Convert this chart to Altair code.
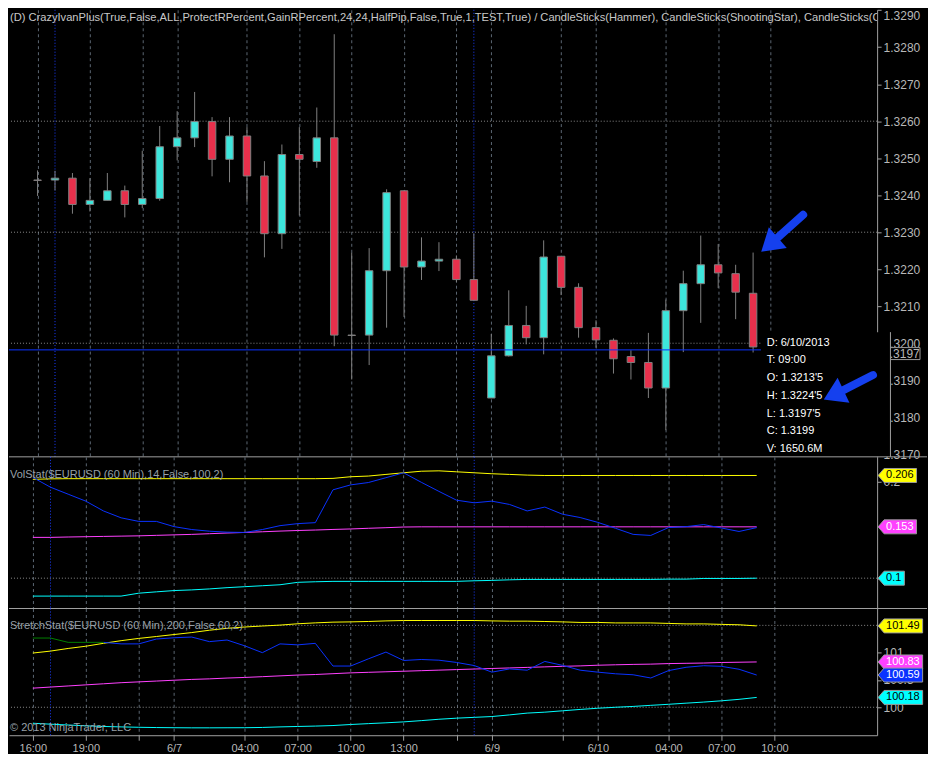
import math
import altair as alt
import pandas as pd

# ---------------- data ----------------
bar_index = list(range(42))
opens = [1.32441, 1.32441, 1.32446, 1.32375, 1.32386, 1.32412, 1.32375, 1.32391, 1.32531, 1.32555,
         1.32599, 1.32497, 1.32560, 1.32452, 1.32296, 1.32510, 1.32491, 1.32555, 1.32022, 1.32022,
         1.32196, 1.32412, 1.32206, 1.32222, 1.32227, 1.32172, 1.31852, 1.31966, 1.32048, 1.32015,
         1.32235, 1.32151, 1.32042, 1.32008, 1.31964, 1.31948, 1.31879, 1.32088, 1.32161, 1.32212,
         1.32188, 1.32135]
highs = [1.32467, 1.32466, 1.32460, 1.32446, 1.32460, 1.32426, 1.32520, 1.32587, 1.32627, 1.32679,
         1.32611, 1.32611, 1.32584, 1.32492, 1.32537, 1.32584, 1.32637, 1.32835, 1.32245, 1.32257,
         1.32416, 1.32413, 1.32286, 1.32273, 1.32237, 1.32297, 1.32025, 1.32143, 1.32101, 1.32278,
         1.32235, 1.32162, 1.32062, 1.32013, 1.31981, 1.32028, 1.32118, 1.32196, 1.32291, 1.32268,
         1.32212, 1.32245]
lows = [1.32398, 1.32413, 1.32350, 1.32356, 1.32386, 1.32340, 1.32365, 1.32385, 1.32494, 1.32530,
        1.32451, 1.32435, 1.32382, 1.32232, 1.32255, 1.32345, 1.32474, 1.31992, 1.31902, 1.31941,
        1.32042, 1.32071, 1.32171, 1.32195, 1.32165, 1.32116, 1.31852, 1.31964, 1.31997, 1.31970,
        1.32130, 1.32015, 1.31988, 1.31918, 1.31902, 1.31852, 1.31765, 1.31976, 1.32055, 1.32149,
        1.32065, 1.31975]
closes = [1.32440, 1.32446, 1.32375, 1.32386, 1.32412, 1.32375, 1.32391, 1.32531, 1.32555, 1.32599,
          1.32497, 1.32560, 1.32452, 1.32296, 1.32510, 1.32497, 1.32555, 1.32022, 1.32021, 1.32196,
          1.32407, 1.32206, 1.32222, 1.32227, 1.32172, 1.32116, 1.31966, 1.32048, 1.32015, 1.32233,
          1.32151, 1.32042, 1.32009, 1.31958, 1.31948, 1.31879, 1.32088, 1.32161, 1.32212, 1.32190,
          1.32138, 1.31990]

vol_yellow = [0.2020, 0.2025, 0.2027, 0.2027, 0.2027, 0.2027, 0.2027, 0.2027, 0.2027, 0.2027,
              0.2027, 0.2027, 0.2027, 0.2027, 0.2027, 0.2027, 0.2027, 0.2030, 0.2047, 0.2054,
              0.2071, 0.2088, 0.2104, 0.2108, 0.2098, 0.2088, 0.2078, 0.2071, 0.2064, 0.2060,
              0.2060, 0.2060, 0.2060, 0.2060, 0.2060, 0.2060, 0.2060, 0.2060, 0.2060, 0.2060,
              0.2060, 0.2060]
vol_magenta = [0.1421, 0.1421, 0.1425, 0.1428, 0.1431, 0.1434, 0.1437, 0.1442, 0.1447, 0.1452,
               0.1459, 0.1466, 0.1472, 0.1479, 0.1486, 0.1492, 0.1497, 0.1503, 0.1508, 0.1515,
               0.1521, 0.1528, 0.1530, 0.1530, 0.1530, 0.1530, 0.1530, 0.1530, 0.1530, 0.1530,
               0.1530, 0.1530, 0.1530, 0.1530, 0.1530, 0.1530, 0.1530, 0.1530, 0.1530, 0.1530,
               0.1530, 0.1530]
vol_blue = [0.2040, 0.1939, 0.1867, 0.1795, 0.1694, 0.1623, 0.1586, 0.1586, 0.1532, 0.1502,
            0.1485, 0.1475, 0.1472, 0.1502, 0.1542, 0.1563, 0.1573, 0.1912, 0.1963, 0.1987,
            0.2037, 0.2088, 0.1990, 0.1896, 0.1805, 0.1778, 0.1795, 0.1761, 0.1694, 0.1734,
            0.1660, 0.1626, 0.1576, 0.1515, 0.1452, 0.1441, 0.1522, 0.1532, 0.1553, 0.1518,
            0.1482, 0.1522]
vol_cyan = [0.0815, 0.0815, 0.0815, 0.0815, 0.0815, 0.0815, 0.0845, 0.0859, 0.0872, 0.0879,
            0.0889, 0.0902, 0.0912, 0.0922, 0.0932, 0.0957, 0.0963, 0.0967, 0.0967, 0.0967,
            0.0967, 0.0967, 0.0967, 0.0967, 0.0967, 0.0973, 0.0977, 0.0983, 0.0987, 0.0987,
            0.0987, 0.0987, 0.0987, 0.0987, 0.0987, 0.0987, 0.0990, 0.0990, 0.0997, 0.0997,
            0.0997, 0.1000]

str_yellow = [100.993, 101.029, 101.077, 101.118, 101.171, 101.220, 101.261, 101.296, 101.332, 101.368,
              101.411, 101.446, 101.470, 101.488, 101.505, 101.529, 101.546, 101.559, 101.564, 101.571,
              101.582, 101.589, 101.589, 101.589, 101.589, 101.589, 101.582, 101.577, 101.577, 101.571,
              101.564, 101.554, 101.554, 101.545, 101.545, 101.545, 101.536, 101.527, 101.527, 101.518,
              101.511, 101.490]
str_magenta = [100.350, 100.370, 100.390, 100.410, 100.430, 100.450, 100.465, 100.480, 100.495, 100.510,
               100.520, 100.535, 100.546, 100.560, 100.575, 100.590, 100.600, 100.615, 100.630, 100.640,
               100.650, 100.660, 100.670, 100.680, 100.690, 100.700, 100.710, 100.720, 100.730, 100.740,
               100.750, 100.758, 100.770, 100.778, 100.785, 100.790, 100.800, 100.805, 100.810, 100.820,
               100.825, 100.830]
str_mid = [101.268, 101.268, 101.189, 101.189, 101.189, 101.161, 101.161, 101.250, 101.273, 101.286,
           101.202, 101.232, 101.125, 101.000, 101.161, 101.143, 101.171, 100.755, 100.755, 100.886,
           101.011, 100.857, 100.875, 100.862, 100.821, 100.764, 100.643, 100.702, 100.679, 100.839,
           100.768, 100.679, 100.643, 100.613, 100.595, 100.536, 100.671, 100.732, 100.761, 100.750,
           100.696, 100.590]
str_cyan = [99.707, 99.690, 99.675, 99.660, 99.648, 99.640, 99.633, 99.628, 99.625, 99.623,
            99.623, 99.624, 99.625, 99.630, 99.640, 99.648, 99.655, 99.665, 99.684, 99.700,
            99.715, 99.732, 99.755, 99.780, 99.800, 99.815, 99.830, 99.860, 99.893, 99.910,
            99.935, 99.960, 99.982, 100.000, 100.015, 100.035, 100.054, 100.075, 100.095, 100.118,
            100.145, 100.180]
green_until = 4  # mid line is drawn green while above the upper band

grid_idx = [0, 3, 6, 8, 12, 15, 18, 21, 24, 26, 30, 32, 36, 39, 42]
grid_lbl = ["16:00", "19:00", "", "6/7", "04:00", "07:00", "10:00", "13:00", "", "6/9", "",
            "6/10", "04:00", "07:00", "10:00"]
session_breaks = [1, 25]

price_ticks = [1.3170, 1.3180, 1.3190, 1.3200, 1.3210, 1.3220, 1.3230, 1.3240, 1.3250,
               1.3260, 1.3270, 1.3280, 1.3290]
price_grid = [1.3200, 1.3230, 1.3260]
vol_ticks = [0.1, 0.2]
vol_grid = [0.1]
str_ticks = [100.0, 100.5, 101.0]
str_grid = [100.0, 101.5]

last_line_price = 1.31982
marker_price = 1.31972
marker_text = "1.3197"

vol_tag_vals = [0.206, 0.153, 0.1]
vol_tag_text = ["0.206", "0.153", "0.1"]
str_tag_vals = [101.49, 100.83, 100.59, 100.18]
str_tag_text = ["101.49", "100.83", "100.59", "100.18"]

title_text = ("(D) CrazyIvanPlus(True,False,ALL,ProtectRPercent,GainRPercent,24,24,HalfPip,False,True,1,"
              "TEST,True) / CandleSticks(Hammer), CandleSticks(ShootingStar), CandleSticks(Cloud)")
vol_label = "VolStat($EURUSD (60 Min),14,False,100,2)"
str_label = "StretchStat($EURUSD (60 Min),200,False,60,2)"
copyright_text = "\u00a9 2013 NinjaTrader, LLC"
info_lines = ["D: 6/10/2013", "T: 09:00", "O: 1.3213'5", "H: 1.3224'5", "L: 1.3197'5",
              "C: 1.3199", "V: 1650.6M"]

# info box and arrows, in (bar index, price) coordinates
info_x0, info_x1, info_top = 41.45, 48.87, 1.32030
info_text_x, info_text_top = 41.78, 1.32018
arrow_id = ["a1", "a2"]
arrow_tail_i = [43.87, 47.87]
arrow_tail_p = [1.32347, 1.31914]
arrow_base_i = [42.30, 45.95]
arrow_base_p = [1.32281, 1.31868]
arrow_tip_i = [41.59, 45.20]
arrow_tip_p = [1.32252, 1.31851]

# ---------------- layout & style ----------------
W = 870
H_P, H_V, H_S = 448, 152, 127
X_DOMAIN = [-1.35, 47.82]
PRICE_DOMAIN = [1.31693, 1.32901]
VOL_DOMAIN = [0.06869, 0.22525]
STR_DOMAIN = [99.4875, 101.809]

FONT = "Liberation Sans"
AX = "#a0a0a0"
LAB = "#b8b8b8"
VGRID = "#5b6672"
HGRID = "#8a8a8a"
UP = "#3de6dc"
DOWN = "#e8304c"
OUT = "#808080"
YEL, MAG, BLU, CYA, GRN = "#ffff00", "#ff40ff", "#0a32ff", "#00ffff", "#008000"
ARROW = "#1540ee"

one = pd.DataFrame({"k": [0]})
xs = alt.Scale(domain=X_DOMAIN, nice=False, zero=False)
label_expr = "".join(f"datum.value == {i} ? '{t}' : " for i, t in zip(grid_idx, grid_lbl)) + "''"

xa_top = alt.Axis(values=grid_idx, grid=True, gridColor=VGRID, gridDash=[3, 3], gridWidth=1,
                  labels=False, ticks=False, domain=False, title=None)
xa_bot = alt.Axis(values=grid_idx, grid=True, gridColor=VGRID, gridDash=[3, 3], gridWidth=1,
                  labelExpr=label_expr, labelColor=LAB, labelFontSize=11, labelFont=FONT,
                  ticks=True, tickColor=AX, tickSize=5, domain=True, domainColor=AX,
                  labelPadding=2, title=None, labelOverlap=False, labelFlush=False)


def yaxis(vals, fmt, flush=False):
    return alt.Axis(orient="right", values=vals, format=fmt, grid=False, domain=True, domainColor=AX,
                    ticks=True, tickColor=AX, tickSize=4, labelColor=LAB, labelFontSize=12,
                    labelFont=FONT, labelPadding=2, title=None, labelFlush=flush, labelOverlap=False)


def text_w(s, fs):
    return sum(0.278 * fs if ch == "." else 0.556 * fs for ch in s)


def tag_path(s):
    w = 8 + text_w(s, 11) + 3
    return f"M0,0 L6,-7 L{w:.1f},-7 L{w:.1f},7 L6,7 Z"


def tags(vals, texts, fills, tcols, yscale, yax):
    df = pd.DataFrame({"v": vals, "t": texts, "fill": fills, "tc": tcols,
                       "path": [tag_path(t) for t in texts]})
    shape = alt.Chart(df).mark_point(filled=True, opacity=1, size=4, stroke="#9a9a9a",
                                     strokeWidth=1).encode(
        x=alt.value(W + 1), y=alt.Y("v:Q", scale=yscale, axis=yax),
        shape=alt.Shape("path:N", scale=None), fill=alt.Fill("fill:N", scale=None))
    txt = alt.Chart(df).mark_text(align="left", baseline="middle", fontSize=11, font=FONT).encode(
        x=alt.value(W + 9), y=alt.Y("v:Q", scale=yscale, axis=yax), text="t:N",
        color=alt.Color("tc:N", scale=None))
    return [shape, txt]


def sep(h):
    return alt.Chart(one).mark_rule(color=AX, strokeWidth=1).encode(
        x=alt.value(0), x2=alt.value(W + 50), y=alt.value(h))


def vlines(xaxis):
    return alt.Chart(pd.DataFrame({"i": session_breaks})).mark_rule(
        color="#1a3cff", strokeDash=[1, 2]).encode(x=alt.X("i:Q", scale=xs, axis=xaxis))


# ---------------- price panel ----------------
ys_p = alt.Scale(domain=PRICE_DOMAIN, nice=False, zero=False)
ya_p = yaxis(price_ticks, ".4f", flush=True)
pdf = pd.DataFrame({"i": bar_index, "o": opens, "h": highs, "l": lows, "c": closes})
pdf["fill"] = [UP if c >= o else DOWN for o, c in zip(opens, closes)]

wicks = alt.Chart(pdf).mark_rule(color=OUT, strokeWidth=1).encode(
    x=alt.X("i:Q", scale=xs, axis=xa_top), y=alt.Y("l:Q", scale=ys_p, axis=ya_p), y2="h:Q")
bodies = alt.Chart(pdf).mark_bar(size=7.5, stroke=OUT, strokeWidth=1).encode(
    x=alt.X("i:Q", scale=xs, axis=xa_top), y=alt.Y("o:Q", scale=ys_p, axis=ya_p), y2="c:Q",
    fill=alt.Fill("fill:N", scale=None))
hgrid_p = alt.Chart(pd.DataFrame({"v": price_grid})).mark_rule(color=HGRID, strokeDash=[1, 2]).encode(
    y=alt.Y("v:Q", scale=ys_p, axis=ya_p))
last_line = alt.Chart(pd.DataFrame({"v": [last_line_price]})).mark_rule(color=BLU, strokeWidth=1).encode(
    y=alt.Y("v:Q", scale=ys_p, axis=ya_p))
title = alt.Chart(one).mark_text(align="left", baseline="middle", fontSize=11.15, font=FONT,
                                 color="#c8c8c8", clip=True).encode(
    x=alt.value(1), y=alt.value(8), text=alt.value(title_text))
mk = pd.DataFrame({"v": [marker_price], "t": [marker_text]})
marker_box = alt.Chart(mk).mark_point(filled=True, opacity=1, size=4, fill="black", stroke="#9a9a9a",
                                      strokeWidth=1, shape="M0,-6 L40,-6 L40,6 L0,6 Z").encode(
    x=alt.value(W + 3), y=alt.Y("v:Q", scale=ys_p, axis=ya_p))
marker_txt = alt.Chart(mk).mark_text(align="left", baseline="middle", fontSize=12, font=FONT,
                                     color=LAB).encode(
    x=alt.value(W + 6), y=alt.Y("v:Q", scale=ys_p, axis=ya_p), text="t:N")
box_df = pd.DataFrame({"x0": [info_x0], "x1": [info_x1], "y0": [info_top], "y1": [PRICE_DOMAIN[0]]})
info_box = alt.Chart(box_df).mark_rect(fill="black").encode(
    x=alt.X("x0:Q", scale=xs, axis=xa_top), x2="x1:Q",
    y=alt.Y("y0:Q", scale=ys_p, axis=ya_p), y2="y1:Q")
info_edge = alt.Chart(box_df).mark_rule(color=AX).encode(
    x=alt.X("x1:Q", scale=xs, axis=xa_top), y=alt.Y("y0:Q", scale=ys_p, axis=ya_p), y2="y1:Q")
info_df = pd.DataFrame({"x": [info_text_x], "y": [info_text_top], "t": ["\n".join(info_lines)]})
info_txt = alt.Chart(info_df).mark_text(align="left", baseline="top", fontSize=11, font=FONT,
                                        color="white", lineBreak="\n", lineHeight=17.8).encode(
    x=alt.X("x:Q", scale=xs, axis=xa_top), y=alt.Y("y:Q", scale=ys_p, axis=ya_p), text="t:N")


def px(i):
    return (i - X_DOMAIN[0]) / (X_DOMAIN[1] - X_DOMAIN[0]) * W


def py(p):
    return (PRICE_DOMAIN[1] - p) / (PRICE_DOMAIN[1] - PRICE_DOMAIN[0]) * H_P


shaft_df = pd.DataFrame({
    "id": arrow_id + arrow_id,
    "i": arrow_tail_i + arrow_base_i,
    "p": arrow_tail_p + arrow_base_p})
head_df = pd.DataFrame({
    "i": arrow_tip_i, "p": arrow_tip_p,
    "ang": [math.degrees(math.atan2(py(tp) - py(bp), px(ti) - px(bi)))
            for ti, tp, bi, bp in zip(arrow_tip_i, arrow_tip_p, arrow_base_i, arrow_base_p)]})
shafts = alt.Chart(shaft_df).mark_line(color=ARROW, strokeWidth=8, strokeCap="round").encode(
    x=alt.X("i:Q", scale=xs, axis=xa_top), y=alt.Y("p:Q", scale=ys_p, axis=ya_p), detail="id:N")
heads = alt.Chart(head_df).mark_point(filled=True, opacity=1, size=4, fill=ARROW, stroke=ARROW,
                                      shape="M1,0 L-18,-12 L-18,12 Z").encode(
    x=alt.X("i:Q", scale=xs, axis=xa_top), y=alt.Y("p:Q", scale=ys_p, axis=ya_p),
    angle=alt.Angle("ang:Q", scale=None))

price_panel = alt.layer(
    hgrid_p, vlines(xa_top), wicks, bodies, last_line, title, marker_box, marker_txt,
    info_box, info_edge, info_txt, shafts, heads, sep(H_P)
).properties(width=W, height=H_P)

# ---------------- VolStat panel ----------------
ys_v = alt.Scale(domain=VOL_DOMAIN, nice=False, zero=False)
ya_v = yaxis(vol_ticks, ".1f")
vol_long = pd.DataFrame({
    "i": bar_index * 4,
    "v": vol_yellow + vol_magenta + vol_cyan + vol_blue,
    "s": ["yellow"] * 42 + ["magenta"] * 42 + ["cyan"] * 42 + ["blue"] * 42})
vol_long["col"] = vol_long["s"].map({"yellow": YEL, "magenta": MAG, "cyan": CYA, "blue": BLU})
vol_lines = alt.Chart(vol_long).mark_line(strokeWidth=1).encode(
    x=alt.X("i:Q", scale=xs, axis=xa_top), y=alt.Y("v:Q", scale=ys_v, axis=ya_v),
    stroke=alt.Stroke("col:N", scale=None), detail="s:N")
hgrid_v = alt.Chart(pd.DataFrame({"v": vol_grid})).mark_rule(color=HGRID, strokeDash=[1, 2]).encode(
    y=alt.Y("v:Q", scale=ys_v, axis=ya_v))
vol_lab = alt.Chart(one).mark_text(align="left", baseline="middle", fontSize=11, font=FONT,
                                   color="#98a0a8").encode(
    x=alt.value(1), y=alt.value(18), text=alt.value(vol_label))
vol_panel = alt.layer(
    hgrid_v, vlines(xa_top), vol_lines, vol_lab,
    *tags(vol_tag_vals, vol_tag_text, [YEL, MAG, CYA], ["black", "white", "black"], ys_v, ya_v),
    sep(H_V)
).properties(width=W, height=H_V)

# ---------------- StretchStat panel ----------------
ys_s = alt.Scale(domain=STR_DOMAIN, nice=False, zero=False)
ya_s = yaxis(str_ticks, ".1~f")
str_long = pd.DataFrame({
    "i": bar_index * 3 + bar_index[green_until:] + bar_index[:green_until + 1],
    "v": str_yellow + str_magenta + str_cyan + str_mid[green_until:] + str_mid[:green_until + 1],
    "s": ["yellow"] * 42 + ["magenta"] * 42 + ["cyan"] * 42 + ["blue"] * (42 - green_until)
         + ["green"] * (green_until + 1)})
str_long["col"] = str_long["s"].map({"yellow": YEL, "magenta": MAG, "cyan": CYA, "blue": BLU,
                                     "green": GRN})
str_lines = alt.Chart(str_long).mark_line(strokeWidth=1).encode(
    x=alt.X("i:Q", scale=xs, axis=xa_bot), y=alt.Y("v:Q", scale=ys_s, axis=ya_s),
    stroke=alt.Stroke("col:N", scale=None), detail="s:N")
hgrid_s = alt.Chart(pd.DataFrame({"v": str_grid})).mark_rule(color=HGRID, strokeDash=[1, 2]).encode(
    y=alt.Y("v:Q", scale=ys_s, axis=ya_s))
str_lab = alt.Chart(one).mark_text(align="left", baseline="middle", fontSize=11, font=FONT,
                                   color="#98a0a8").encode(
    x=alt.value(1), y=alt.value(18), text=alt.value(str_label))
copy_lab = alt.Chart(one).mark_text(align="left", baseline="middle", fontSize=11, font=FONT,
                                    color="#98a0a8").encode(
    x=alt.value(1), y=alt.value(H_S - 7), text=alt.value(copyright_text))
str_panel = alt.layer(
    hgrid_s, vlines(xa_bot), str_lines, str_lab, copy_lab,
    *tags(str_tag_vals, str_tag_text, [YEL, MAG, BLU, CYA], ["black", "white", "white", "black"],
          ys_s, ya_s)
).properties(width=W, height=H_S)

chart = alt.vconcat(price_panel, vol_panel, str_panel, spacing=0, bounds="flush").resolve_scale(
    x="independent", y="independent", color="independent"
).properties(background="black", padding=0).configure(font=FONT).configure_view(stroke=None)

chart.save("out.html", embed_options={"renderer": "svg", "actions": False})
